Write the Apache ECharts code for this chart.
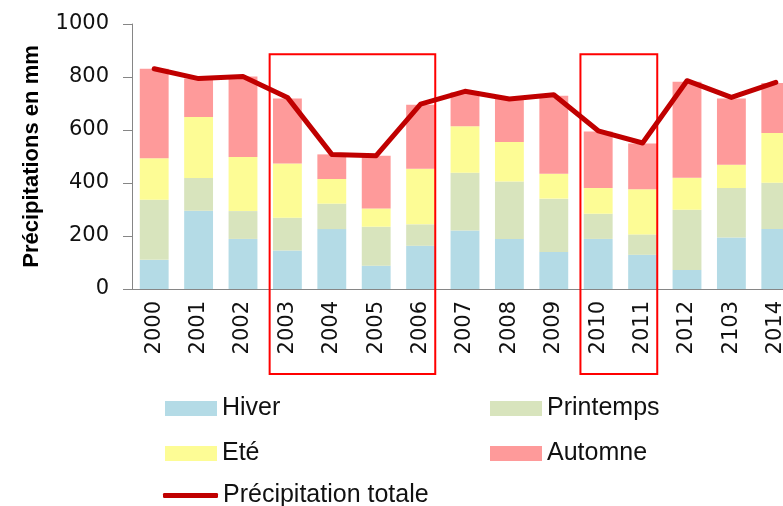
<!DOCTYPE html>
<html>
<head>
<meta charset="utf-8">
<script src="https://cdn.jsdelivr.net/npm/echarts@6/dist/echarts.min.js"></script>
<style>
  html, body { margin: 0; padding: 0; background: #fff; overflow: hidden; }
  #main { width: 800px; height: 506px; }
</style>
</head>
<body>
<div id="main"></div>
<script>
// années (le "2103" est tel quel sur l'original)
const annees = ['2000', '2001', '2002', '2003', '2004', '2005', '2006', '2007',
  '2008', '2009', '2010', '2011', '2012', '2103', '2014'];
// précipitations par saison (mm)
const hiver = [110, 295, 189, 145, 226, 88, 163, 221, 189, 140, 189, 129, 72, 194, 226];
const printemps = [227, 124, 105, 124, 96, 147, 81, 218, 217, 201, 95, 77, 227, 187, 175];
const ete = [156, 230, 204, 205, 93, 69, 210, 175, 149, 94, 97, 170, 121, 88, 188];
const automne = [338, 145, 304, 245, 93, 199, 241, 128, 162, 294, 213, 173, 362, 250, 188];
const totale = [831, 794, 802, 723, 508, 503, 698, 746, 717, 733, 597, 551, 786, 723, 780];
// périodes encadrées en rouge
const periodes = [['2003', '2006'], ['2010', '2011']];

const police = 'DejaVu Sans';
const policeTexte = 'Liberation Sans';

let myChart = echarts.init(document.getElementById('main'));

function barre(nom, data, couleur) {
  return {
    name: nom,
    type: 'bar',
    stack: 'saisons',
    data: data,
    barWidth: '65%',
    z: 1,
    itemStyle: { color: couleur },
    emphasis: { disabled: true },
  };
}

const legendeTexte = { fontFamily: policeTexte, fontSize: 25, color: '#111' };

myChart.setOption({
  animation: false,
  grid: { left: 132, right: 2, top: 24, bottom: 217 },
  legend: [
    {
      orient: 'vertical', left: 160, top: 391, itemGap: 20, icon: 'rect',
      itemWidth: 52, itemHeight: 15, textStyle: legendeTexte,
      data: ['Hiver', 'Eté'],
    },
    {
      orient: 'vertical', left: 485, top: 391, itemGap: 20, icon: 'rect',
      itemWidth: 52, itemHeight: 15, textStyle: legendeTexte,
      data: ['Printemps', 'Automne'],
    },
    {
      left: 158, top: 478, itemWidth: 55, itemHeight: 5,
      icon: 'roundRect', textStyle: legendeTexte,
      data: ['Précipitation totale'],
    },
  ],
  xAxis: {
    type: 'category',
    data: annees,
    axisLine: { lineStyle: { color: '#868686' } },
    axisTick: { length: 7, lineStyle: { color: '#868686' } },
    axisLabel: {
      rotate: 90, margin: 12, interval: 0,
      fontFamily: police, fontSize: 21, color: '#111',
    },
    splitLine: { show: false },
  },
  yAxis: {
    type: 'value',
    min: 0, max: 1000, interval: 200,
    name: 'Précipitations en mm',
    nameLocation: 'center',
    nameGap: 89,
    nameTextStyle: { fontFamily: policeTexte, fontWeight: 'bold', fontSize: 22, color: '#000' },
    axisLine: { show: true, lineStyle: { color: '#868686' } },
    axisTick: { show: true, length: 9, lineStyle: { color: '#868686' } },
    axisLabel: {
      margin: 23, fontFamily: police, fontSize: 21, color: '#111',
      formatter: function (v) { return String(v); },
    },
    splitLine: { show: false },
  },
  series: [
    barre('Hiver', hiver, '#b4dbe6'),
    barre('Printemps', printemps, '#d8e4bd'),
    barre('Eté', ete, '#fdfc95'),
    barre('Automne', automne, '#fe9a9a'),
    {
      name: 'Précipitation totale',
      type: 'line',
      data: totale,
      symbol: 'none',
      z: 3,
      lineStyle: { color: '#c00000', width: 5, cap: 'round', join: 'round' },
      itemStyle: { color: '#c00000' },
    },
  ],
});

// cadres rouges autour des périodes sèches
const pas = myChart.convertToPixel({ xAxisIndex: 0 }, annees[1]) - myChart.convertToPixel({ xAxisIndex: 0 }, annees[0]);
const haut = myChart.convertToPixel({ yAxisIndex: 0 }, 886);
myChart.setOption({
  graphic: periodes.map(function (p) {
    const x1 = myChart.convertToPixel({ xAxisIndex: 0 }, p[0]) - pas * 0.4;
    const x2 = myChart.convertToPixel({ xAxisIndex: 0 }, p[1]) + pas * 0.33;
    return {
      type: 'rect',
      z: 2,
      shape: { x: x1, y: haut, width: x2 - x1, height: 374 - haut },
      style: { fill: 'none', stroke: '#ff0000', lineWidth: 2 },
    };
  }),
});
</script>
</body>
</html>
